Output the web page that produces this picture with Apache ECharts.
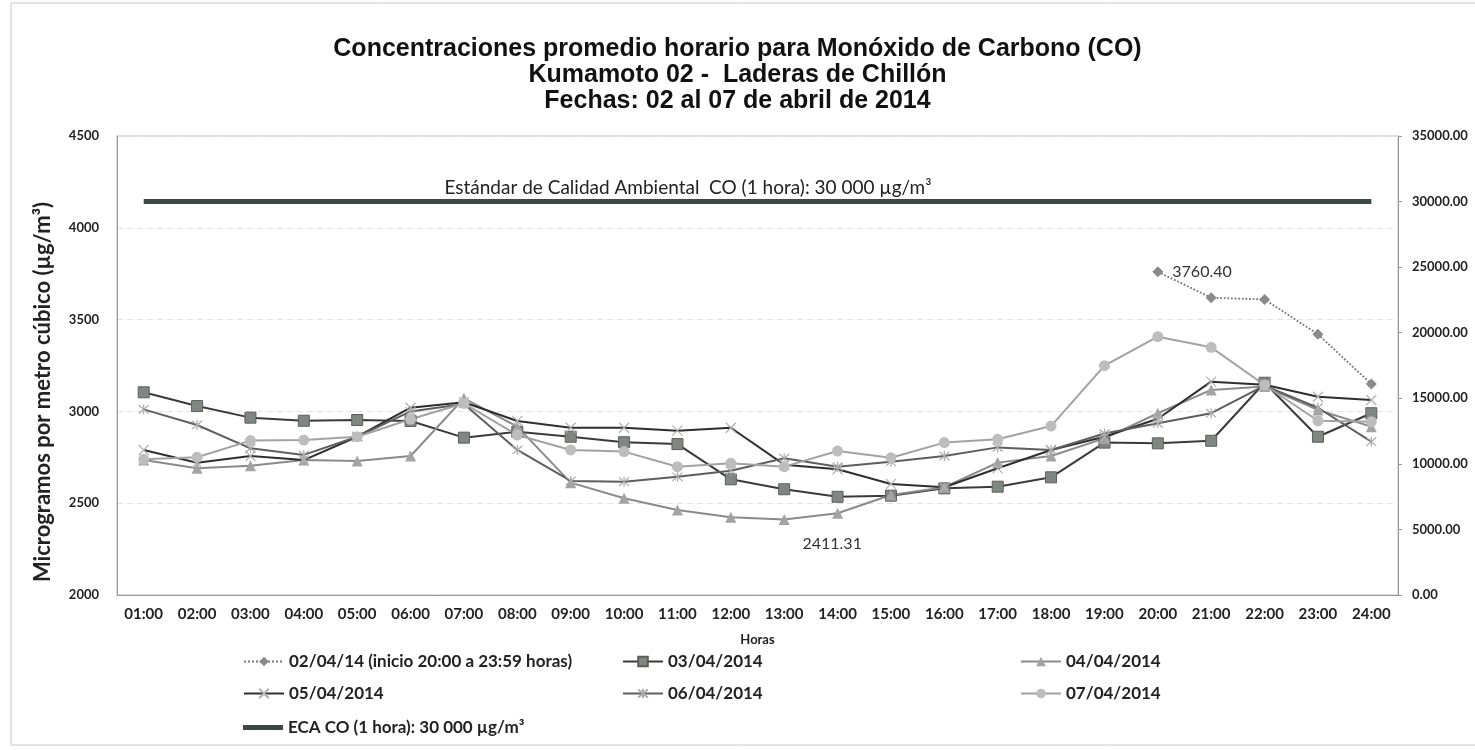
<!DOCTYPE html>
<html><head><meta charset="utf-8">
<script src="https://cdn.jsdelivr.net/npm/echarts@6/dist/echarts.min.js"></script>
<style>html,body{margin:0;padding:0;background:#fff}#c{width:1475px;height:750px}</style>
</head><body><div id="c"></div>
<script>
const hours = ['01:00','02:00','03:00','04:00','05:00','06:00','07:00','08:00','09:00','10:00','11:00','12:00','13:00','14:00','15:00','16:00','17:00','18:00','19:00','20:00','21:00','22:00','23:00','24:00'];
const leftTicks = [2000, 4500, 500];
const rightTicks = [0, 35000, 5000];
const s0204 = [null,null,null,null,null,null,null,null,null,null,null,null,null,null,null,null,null,null,null,3760.40,3619,3610,3420,3149];
const s0304 = [3104,3029,2966,2949,2953,2948,2857,2889,2862,2832,2822,2630,2576,2535,2541,2581,2590,2641,2830,2826,2840,3156,2862,2990];
const s0404 = [2735,2690,2704,2735,2730,2757,3071,2917,2612,2527,2463,2423,2411.31,2445,2545,2587,2721,2757,2853,2990,3117,3135,3008,2917];
const s0504 = [2790,2720,2757,2735,2862,3020,3050,2948,2911,2911,2895,2911,2710,2685,2605,2587,2690,2790,2862,2960,3162,3145,3080,3062];
const s0604 = [3011,2926,2799,2763,2862,3000,3040,2790,2621,2617,2644,2677,2745,2699,2726,2757,2804,2790,2880,2935,2990,3140,3020,2835];
const s0704 = [2739,2750,2841,2844,2862,2957,3044,2871,2790,2781,2699,2717,2699,2784,2748,2830,2848,2920,3249,3407,3349,3144,2949,2944];
const eca = [30000,30000,30000,30000,30000,30000,30000,30000,30000,30000,30000,30000,30000,30000,30000,30000,30000,30000,30000,30000,30000,30000,30000,30000];
const names = ['02/04/14 (inicio 20:00 a 23:59 horas)','03/04/2014','04/04/2014','05/04/2014','06/04/2014','07/04/2014','ECA CO (1 hora): 30 000 µg/m³'];
const ecaNote = 'Estándar de Calidad Ambiental  CO (1 hora): 30 000 µg/m³';
const titleText = 'Concentraciones promedio horario para Monóxido de Carbono (CO)\nKumamoto 02 -  Laderas de Chillón\nFechas: 02 al 07 de abril de 2014';
const yName = 'Microgramos por metro cúbico (µg/m³)';
const xName = 'Horas';

const FONT = 'Lato';
const xMark = 'path://M0,0L10,10M10,0L0,10';
const starMark = 'path://M0,0L10,10M10,0L0,10M5,-1L5,11';
const chart = echarts.init(document.getElementById('c'));

const labelStyle = {color:'#333', fontFamily:FONT, fontSize:16};
const d0204 = s0204.map((v,i)=> i===19 ? {value:v, label:{show:true, position:'right', distance:9, formatter:()=>v.toFixed(2), ...labelStyle}} : v);
const d0404 = s0404.map((v,i)=> i===12 ? {value:v, label:{show:true, position:'bottom', distance:11, offset:[48,0], formatter:()=>v.toFixed(2), ...labelStyle}} : v);

const legendText = {fontFamily:FONT, fontWeight:'bold', fontSize:17, color:'#222'};
function leg(left, top, data, extra){
  return Object.assign({orient:'vertical', left:left, top:top, itemGap:15, itemWidth:40, itemHeight:12, data:data, textStyle:legendText, padding:0, selectedMode:false}, extra||{});
}

chart.setOption({
  animation:false,
  backgroundColor:'#fff',
  title:{text:titleText, left:'center', top:31, textStyle:{fontFamily:'Liberation Sans', fontWeight:'bold', fontSize:25, lineHeight:26, color:'#111'}},
  grid:{left:117, right:77, top:136, bottom:155, show:true, borderColor:'#bbb', borderWidth:1},
  legend:[
    leg(243, 653, [names[0],names[3]]),
    leg(243, 719, [names[6]], {itemHeight:5, icon:'rect'}),
    leg(622, 653, [names[1],names[4]]),
    leg(1020, 653, [names[2],names[5]])
  ],
  graphic:[
    {type:'rect', shape:{x:11,y:3,width:1470,height:742}, style:{fill:'none', stroke:'#c8c8c8', lineWidth:1}, silent:true},
    {type:'text', x:688, y:188, style:{text:ecaNote, fontFamily:FONT, fontSize:19, fill:'#222', align:'center', verticalAlign:'middle'}},
    {type:'text', x:43, y:392, rotation:Math.PI/2, style:{text:yName, fontFamily:FONT, fontWeight:'bold', fontSize:22, fill:'#222', align:'center', verticalAlign:'middle'}}
  ],
  xAxis:{type:'category', data:hours, boundaryGap:true, name:xName, nameLocation:'middle', nameGap:38,
    nameTextStyle:{fontFamily:FONT, fontWeight:'bold', fontSize:13, color:'#222'},
    axisLine:{lineStyle:{color:'#999'}}, axisTick:{show:false},
    axisLabel:{margin:12, interval:0, fontFamily:FONT, fontWeight:'bold', fontSize:15, color:'#222'}},
  yAxis:[
    {type:'value', min:leftTicks[0], max:leftTicks[1], interval:leftTicks[2],
      axisLine:{show:true, lineStyle:{color:'#999'}}, axisTick:{show:false},
      splitLine:{show:true, lineStyle:{color:'#e2e2e2', type:[6,4]}},
      axisLabel:{margin:18, fontFamily:FONT, fontWeight:'bold', fontSize:13, color:'#222', formatter:v=>String(v)}},
    {type:'value', min:rightTicks[0], max:rightTicks[1], interval:rightTicks[2],
      axisLine:{show:true, lineStyle:{color:'#999'}}, axisTick:{show:true, length:4, lineStyle:{color:'#999'}},
      splitLine:{show:false},
      axisLabel:{margin:14, fontFamily:FONT, fontWeight:'bold', fontSize:13, color:'#222', formatter:v=>v.toFixed(2)}}
  ],
  series:[
    {name:names[0], type:'line', data:d0204, symbol:'diamond', symbolSize:11, connectNulls:false,
      lineStyle:{color:'#777', width:1.8, type:'dotted'}, itemStyle:{color:'#8a8a8a'}},
    {name:names[1], type:'line', data:s0304, symbol:'rect', symbolSize:11,
      lineStyle:{color:'#3a3a3a', width:2}, itemStyle:{color:'#808782', borderColor:'#5a5f5c', borderWidth:1}},
    {name:names[2], type:'line', data:d0404, symbol:'triangle', symbolSize:11,
      lineStyle:{color:'#8a8a8a', width:2}, itemStyle:{color:'#a3a3a3'}},
    {name:names[3], type:'line', data:s0504, symbol:xMark, symbolSize:10,
      lineStyle:{color:'#2e2e2e', width:2}, itemStyle:{color:'none', borderColor:'#b0b0b0', borderWidth:1.2}},
    {name:names[4], type:'line', data:s0604, symbol:starMark, symbolSize:10,
      lineStyle:{color:'#5e5e5e', width:2}, itemStyle:{color:'none', borderColor:'#aaaaaa', borderWidth:1.2}},
    {name:names[5], type:'line', data:s0704, symbol:'circle', symbolSize:11,
      lineStyle:{color:'#a2a2a2', width:2}, itemStyle:{color:'#bdbdbd'}},
    {name:names[6], type:'line', data:eca, yAxisIndex:1, symbol:'none',
      lineStyle:{color:'#3b4946', width:5}, itemStyle:{color:'#3b4946'}}
  ]
});
</script>
</body></html>
